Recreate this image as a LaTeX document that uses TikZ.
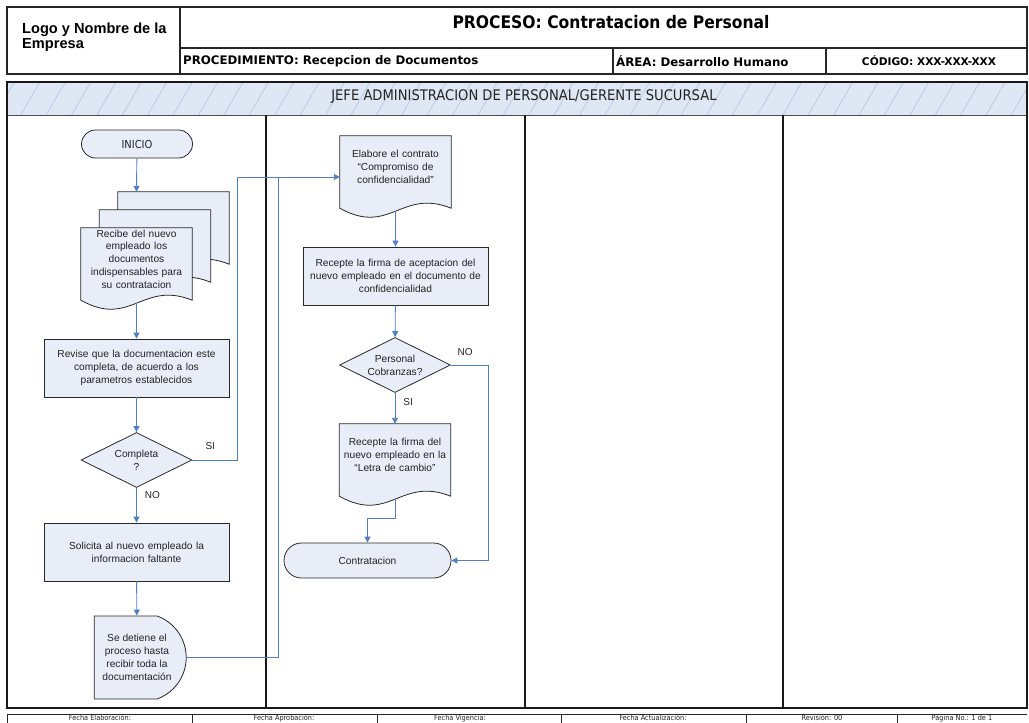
\documentclass[tikz,border=0pt]{standalone}
\usepackage{fontspec}
\setmainfont{Liberation Sans}
\newfontfamily\tahoma{DejaVu Sans Condensed}
\newfontfamily\verdana{DejaVu Sans}
\usetikzlibrary{shapes.geometric,shapes.misc,arrows.meta,calc,backgrounds,patterns.meta}

\definecolor{shapefill}{RGB}{232,237,247}
\definecolor{shapeline}{RGB}{40,40,40}
\definecolor{flowblue}{RGB}{80,128,194}
\definecolor{bandfill}{RGB}{222,231,243}
\definecolor{bandstripe}{RGB}{188,205,230}
\definecolor{inkgray}{RGB}{35,35,35}

\tikzset{
  body/.style={font=\fontsize{10.2}{12.8}\selectfont, text=inkgray},
  procbox/.style={body, rectangle, draw=shapeline, fill=shapefill, line width=0.8pt,
    minimum width=185, minimum height=58, text width=182, align=center, inner sep=0pt},
  decision/.style={body, diamond, draw=shapeline, fill=shapefill, line width=0.8pt,
    minimum width=111, minimum height=55, aspect=2, inner sep=0pt, align=center},
  terminal/.style={body, rounded rectangle, draw=shapeline, fill=shapefill, line width=0.8pt,
    minimum height=28, inner sep=0pt},
  delaybox/.style={body, rounded rectangle, rounded rectangle west arc=none,
    rounded rectangle arc length=140, draw=shapeline, fill=shapefill, line width=0.8pt,
    minimum width=92, minimum height=83, inner sep=0pt, align=center},
  docpage/.style={body, rectangle, minimum width=111, minimum height=62, inner sep=0pt,
    text width=110, align=center},
  docline/.style={draw=shapeline, fill=shapefill, line width=0.8pt},
  flow/.style={draw=flowblue, line width=0.9pt, -{Triangle[length=6pt,width=6pt]}},
  link/.style={draw=flowblue, line width=0.9pt},
  flowlabel/.style={font=\fontsize{10}{11}\selectfont, text=inkgray, inner sep=1pt},
  frameline/.style={draw=black!85, line width=1.1pt},
  laneline/.style={draw=black!90, line width=1.3pt},
  footline/.style={draw=black!85, line width=0.9pt},
  footnote/.style={font=\tahoma\fontsize{7.3}{8}\selectfont, text=inkgray, inner sep=0pt, anchor=base}
}

% page with a wavy bottom, drawn behind node #1 and moved by #2
\newcommand{\pageoutline}[2]{%
  \filldraw[docline] ($(#1.north west)+(#2)$) -- ($(#1.north east)+(#2)$)
    -- ($(#1.south east)+(#2)+(0,10)$)
    .. controls ($(#1.south east)!0.45!(#1.south west)+(#2)+(0,-10)$)
    and ($(#1.south east)!0.55!(#1.south west)+(#2)+(0,38)$) .. ($(#1.south west)+(#2)+(0,10)$)
    -- cycle;}

\begin{document}
\begin{tikzpicture}[x=1pt,y=-1pt]
    \useasboundingbox (0,0) rectangle (1029,723);
    \clip (0,0) rectangle (1029,723);

    % --------------------------------------------------------- %
    % ------------- header table
    % --------------------------------------------------------- %
    \draw[frameline] (7,7) rectangle (1027,74);
    \draw[frameline] (180,7) -- (180,74);
    \draw[frameline] (180,48) -- (1027,48);
    \draw[frameline] (613,48) -- (613,74) (826,48) -- (826,74);
    \node[anchor=west, align=left, font=\bfseries\fontsize{14.6}{15.5}\selectfont, inner sep=0pt] (empresa) at (22,37) {Logo y Nombre de la\\Empresa};
    \node[font=\tahoma\bfseries\fontsize{17.3}{19}\selectfont] (proceso) at (611,22) {PROCESO: Contratacion de Personal};
    \node[anchor=west, font=\verdana\bfseries\fontsize{11.8}{13}\selectfont, inner sep=0pt] (procedimiento) at (183,61) {PROCEDIMIENTO: Recepcion de Documentos};
    \node[anchor=west, font=\verdana\bfseries\fontsize{11.8}{13}\selectfont, inner sep=0pt] (area) at (616,61) {ÁREA: Desarrollo Humano};
    \node[font=\verdana\bfseries\fontsize{10.6}{12}\selectfont] (codigo) at (929,61) {CÓDIGO: XXX-XXX-XXX};

    % --------------------------------------------------------- %
    % ------------- swimlanes
    % --------------------------------------------------------- %
    \fill[bandfill] (7,82) rectangle (1027,115);
    \fill[pattern={Lines[angle=60,distance=22pt,line width=0.9pt]}, pattern color=bandstripe] (7,82) rectangle (1027,115);
    \draw[draw=black!70, line width=0.9pt] (7,82) -- (1027,82) (7,115) -- (1027,115);
    \node[font=\tahoma\fontsize{14.6}{16}\selectfont, text=inkgray] (jefe) at (524,97) {JEFE ADMINISTRACION DE PERSONAL/GERENTE SUCURSAL};
    \draw[laneline] (7,82) rectangle (1027,708);
    \draw[laneline] (266,115) -- (266,708);
    \draw[laneline] (525,115) -- (525,708);
    \draw[laneline] (783,115) -- (783,708);

    % --------------------------------------------------------- %
    % ------------- lane 1 : reception
    % --------------------------------------------------------- %
    % --- start node
    \node[terminal, minimum width=111, font=\tahoma\fontsize{11}{12}\selectfont] (inicio) at (137,144) {INICIO};
    % --- documents node
    \node[docpage] (recibe) at (136.5,259) {Recibe del nuevo\\empleado los\\documentos\\indispensables para\\su contratacion};
    \begin{pgfonlayer}{background}
      \pageoutline{recibe}{37,-36}
      \pageoutline{recibe}{18.5,-18}
      \pageoutline{recibe}{0,0}
    \end{pgfonlayer}
    \coordinate (recibetop) at ($(recibe.north)+(0,-36)$);
    \coordinate (recibewave) at ($(recibe.south)+(0,13)$);
    \draw[flow] (inicio) -- (recibetop);
    % --- check node
    \node[procbox] (revise) at (136.5,368) {Revise que la documentacion este\\completa, de acuerdo a los\\parametros establecidos};
    \draw[flow] (recibewave) -- (revise);
    % --- decision node
    \node[decision] (completa) at (136.5,460) {Completa\\?};
    \draw[flow] (revise) -- (completa);
    % --- request node
    \node[procbox] (solicita) at (136.5,552) {Solicita al nuevo empleado la\\informacion faltante};
    \draw[flow] (completa) -- node[flowlabel, pos=0.22, right=7pt] (no1) {NO} (solicita);
    % --- delay node
    \node[delaybox] (detiene) at (137,657.5) {Se detiene el\\proceso hasta\\recibir toda la\\documentación};
    \draw[flow] (solicita) -- (detiene);

    % --------------------------------------------------------- %
    % ------------- lane 2 : contract
    % --------------------------------------------------------- %
    % --- contract node
    \node[docpage] (elabore) at (395.5,167) {Elabore el contrato\\“Compromiso de\\confidencialidad”};
    \begin{pgfonlayer}{background}
      \pageoutline{elabore}{0,0}
    \end{pgfonlayer}
    \coordinate (elaborewave) at ($(elabore.south)+(0,13)$);
    \coordinate (sibend) at (237,177);
    \coordinate (joint) at (278,177);
    \draw[flow] (completa.east) -| node[flowlabel, pos=0.2, above=9pt] (si1) {SI} (sibend) -- (sibend -| elabore.west);
    \draw[link] (detiene.east) -| (joint);
    % --- signature node
    \node[procbox] (recepte) at (395.5,276) {Recepte la firma de aceptacion del\\nuevo empleado en el documento de\\confidencialidad};
    \draw[flow] (elaborewave) -- (recepte);
    % --- decision node
    \node[decision] (cobranzas) at (395,365) {Personal\\Cobranzas?};
    \draw[flow] (recepte) -- (cobranzas);
    % --- bill node
    \node[docpage] (letra) at (395,455) {Recepte la firma del\\nuevo empleado en la\\“Letra de cambio”};
    \begin{pgfonlayer}{background}
      \pageoutline{letra}{0,0}
    \end{pgfonlayer}
    \coordinate (letrawave) at ($(letra.south)+(0,13)$);
    \draw[flow] (cobranzas) -- node[flowlabel, pos=0.3, right=7pt] (si2) {SI} (letra);
    % --- end node
    \node[terminal, minimum width=167, minimum height=35, font=\fontsize{10.2}{12}\selectfont] (contratacion) at (367.5,560.5) {Contratacion};
    \draw[flow] (letrawave) |- ($(contratacion.north)+(0,-24)$) -- (contratacion.north);
    \draw[flow] (cobranzas.east) -| node[flowlabel, pos=0.19, above=8pt] (no2) {NO} ($(contratacion.east)+(37,0)$) -- (contratacion.east);

    % --------------------------------------------------------- %
    % ------------- footer
    % --------------------------------------------------------- %
    \draw[footline] (7,714) -- (1027,714);
    \draw[footline] (7,714) -- (7,730) (192,714) -- (192,730) (377,714) -- (377,730)
      (561,714) -- (561,730) (746,714) -- (746,730) (897,714) -- (897,730);
    \node[footnote] (elaboracion) at (100,720.6) {Fecha Elaboración:};
    \node[footnote] (aprobacion) at (284,720.6) {Fecha Aprobación:};
    \node[footnote] (vigencia) at (460,720.6) {Fecha Vigencia:};
    \node[footnote] (actualizacion) at (653,720.6) {Fecha Actualización:};
    \node[footnote] (revision) at (822,720.6) {Revisión: 00};
    \node[footnote] (pagina) at (962,720.6) {Página No.: 1 de 1};

\end{tikzpicture}
\end{document}
